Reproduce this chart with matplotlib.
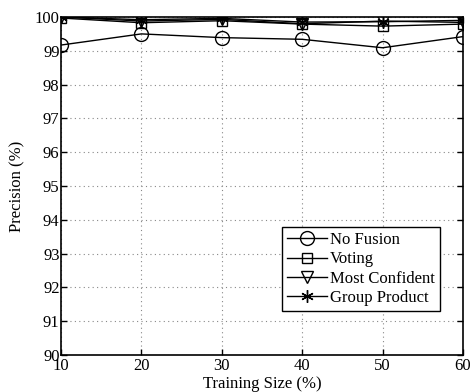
import matplotlib
matplotlib.use("Agg")
import matplotlib.pyplot as plt

plt.rcParams['font.family'] = ['Liberation Serif', 'DejaVu Serif']
plt.rcParams['mathtext.fontset'] = 'stix'

train_size = [10, 20, 30, 40, 50, 60]
no_fusion = [99.17, 99.5, 99.39, 99.34, 99.09, 99.42]
voting = [99.97, 99.83, 99.89, 99.79, 99.73, 99.79]
most_conf = [100.0, 99.88, 99.93, 99.8, 99.88, 99.84]
group_prod = [100.0, 99.92, 99.96, 99.85, 99.86, 99.9]
yticks = list(range(90, 101))

fig = plt.figure(figsize=(4.71, 3.92), dpi=100)
ax = fig.add_axes([61/471, 37/392, 402/471, 338/392])

kw = dict(color='black', linewidth=1.0, markerfacecolor='none', markeredgecolor='black')
ax.plot(train_size, no_fusion, marker='o', markersize=10, label='No Fusion', **kw)
ax.plot(train_size, voting, marker='s', markersize=7, label='Voting', **kw)
ax.plot(train_size, most_conf, marker='v', markersize=9, label='Most Confident', **kw)
ax.plot(train_size, group_prod, marker=(6, 2, 0), markersize=9, label='Group Product', **kw)

ax.set_xlim(10, 60)
ax.set_ylim(90, 100)
ax.set_xticks(train_size)
ax.set_yticks(yticks)
ax.tick_params(direction='in', labelsize=12, length=4, width=1, pad=1, top=True, right=True)
ax.tick_params(axis='x', pad=2.5)
ax.grid(True, linestyle=(0, (1, 3)), color='#888888', linewidth=0.8)
for s in ax.spines.values():
    s.set_linewidth(1.2)

ax.set_xlabel('Training Size (%)', fontsize=12, labelpad=1)
ax.set_ylabel('Precision (%)', fontsize=12, labelpad=7)

leg = ax.legend(loc='lower right', bbox_to_anchor=(0.943, 0.13), fontsize=12,
                frameon=True, fancybox=False, edgecolor='black', framealpha=1,
                handlelength=2.4, handletextpad=0.2, borderpad=0.3, labelspacing=0.2,
                borderaxespad=0)
leg.get_frame().set_linewidth(1.0)

fig.savefig('out.png', dpi=100)
